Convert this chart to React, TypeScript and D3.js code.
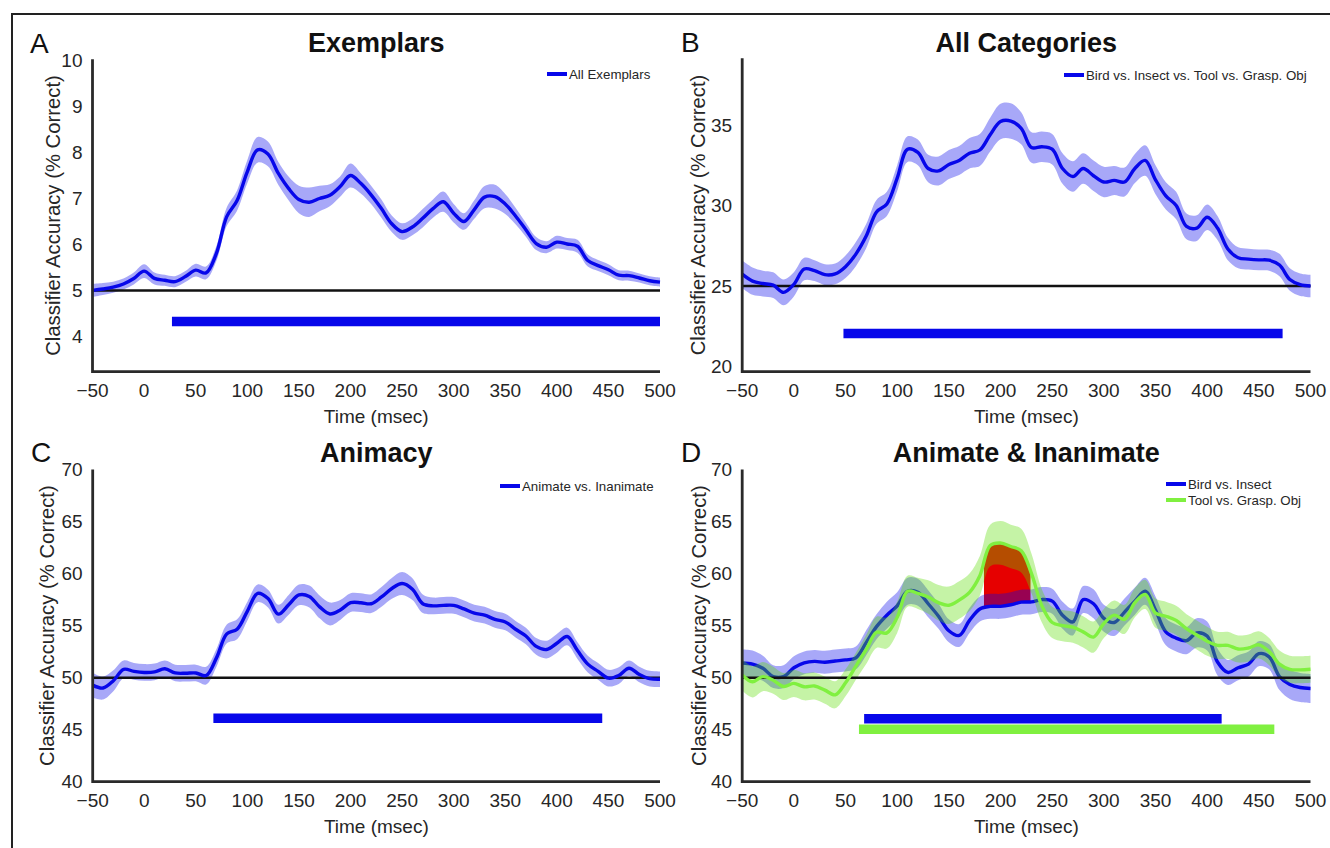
import React from 'react';
import * as d3 from 'd3';

// ---------- DATA ----------
const times = [
  -50, -40, -30, -20, -10, 0, 10, 20, 30, 40,
  50, 60, 70, 80, 90, 100, 110, 120, 130, 140,
  150, 160, 170, 180, 190, 200, 210, 220, 230, 240,
  250, 260, 270, 280, 290, 300, 310, 320, 330, 340,
  350, 360, 370, 380, 390, 400, 410, 420, 430, 440,
  450, 460, 470, 480, 490, 500,
];

const xTicks = [-50, 0, 50, 100, 150, 200, 250, 300, 350, 400, 450, 500];
const yTicksExemplars = [4, 5, 6, 7, 8, 9, 10];
const yTicksCategories = [20, 25, 30, 35];
const yTicksAnimacy = [40, 45, 50, 55, 60, 65, 70];
const yTicksAnimInan = [40, 45, 50, 55, 60, 65, 70];

const exemplarsMean = [
  5.0, 5.03, 5.07, 5.14, 5.26, 5.42, 5.26, 5.22, 5.19, 5.3,
  5.44, 5.38, 5.8, 6.6, 6.95, 7.58, 8.06, 7.97, 7.55, 7.22,
  6.98, 6.92, 7.0, 7.07, 7.26, 7.5, 7.33, 7.08, 6.78, 6.45,
  6.28, 6.38, 6.57, 6.78, 6.93, 6.68, 6.5, 6.76, 7.03, 7.04,
  6.88, 6.62, 6.32, 6.02, 5.94, 6.05, 6.01, 5.96, 5.65, 5.54,
  5.45, 5.33, 5.32, 5.27, 5.21, 5.18,
];
const exemplarsSem = [
  0.14, 0.13, 0.12, 0.12, 0.13, 0.15, 0.13, 0.12, 0.12, 0.12,
  0.14, 0.14, 0.16, 0.2, 0.22, 0.25, 0.28, 0.27, 0.25, 0.26,
  0.3, 0.32, 0.28, 0.24, 0.22, 0.26, 0.22, 0.2, 0.2, 0.18,
  0.18, 0.18, 0.2, 0.2, 0.22, 0.2, 0.18, 0.2, 0.24, 0.26,
  0.22, 0.18, 0.15, 0.14, 0.13, 0.14, 0.13, 0.14, 0.13, 0.12,
  0.12, 0.11, 0.11, 0.1, 0.1, 0.1,
];

const categoriesMean = [
  25.73, 25.3, 25.15, 25.05, 24.6, 25.1, 26.05, 25.95, 25.7, 25.75,
  26.2, 26.98, 28.1, 29.6, 30.1, 31.7, 33.5, 33.3, 32.3, 32.15,
  32.55, 32.8, 33.25, 33.45, 34.4, 35.22, 35.25, 34.8, 33.6, 33.65,
  33.5, 32.3, 31.8, 32.3, 31.85, 31.46, 31.56, 31.46, 32.3, 32.8,
  31.6, 30.6, 30.0, 28.7, 28.6, 29.27, 28.6, 27.3, 26.75, 26.67,
  26.62, 26.6, 26.3, 25.4, 25.08, 25.0,
];
const categoriesSem = [
  0.85, 0.85, 0.8, 0.8, 0.8, 0.75, 0.7, 0.65, 0.65, 0.65,
  0.7, 0.75, 0.75, 0.75, 0.75, 0.8, 0.8, 0.8, 0.85, 0.9,
  0.9, 0.9, 0.95, 1.0, 1.05, 1.1, 1.1, 1.0, 0.95, 0.95,
  0.95, 0.95, 0.95, 0.95, 0.95, 0.95, 0.9, 0.9, 0.9, 0.95,
  0.9, 0.85, 0.85, 0.8, 0.8, 0.8, 0.75, 0.7, 0.65, 0.65,
  0.65, 0.65, 0.7, 0.7, 0.7, 0.7,
];

const animacyMean = [
  49.28, 49.0, 49.7, 50.8, 50.6, 50.5, 50.55, 50.85, 50.45, 50.42,
  50.45, 50.2, 51.9, 54.2, 54.65, 56.4, 58.1, 57.6, 56.1, 57.0,
  57.95, 57.8, 56.8, 56.12, 56.5, 57.2, 57.2, 57.1, 57.75, 58.57,
  59.05, 58.5, 57.1, 56.9, 56.94, 56.94, 56.6, 56.2, 56.0, 55.6,
  55.35, 54.65, 54.0, 53.0, 52.7, 53.3, 53.95, 52.6, 51.3, 50.6,
  49.95, 50.2, 50.9, 50.3, 49.9, 49.84,
];
const animacySem = [
  1.2, 1.1, 1.0, 0.85, 0.8, 0.8, 0.8, 0.8, 0.8, 0.8,
  0.8, 0.85, 0.85, 0.9, 0.95, 0.9, 0.85, 0.85, 0.9, 0.95,
  1.0, 1.05, 1.1, 1.1, 0.95, 0.9, 0.9, 0.9, 0.95, 1.0,
  1.1, 1.05, 0.9, 0.8, 0.8, 0.8, 0.8, 0.8, 0.8, 0.8,
  0.8, 0.8, 0.8, 0.8, 0.85, 0.9, 0.85, 0.8, 0.8, 0.8,
  0.8, 0.8, 0.75, 0.75, 0.75, 0.75,
];

const birdInsectMean = [
  51.4, 51.3, 50.9, 50.1, 50.1, 50.95, 51.42, 51.56, 51.48, 51.6,
  51.7, 51.9, 53.36, 54.9, 56.0, 56.9, 58.3, 58.2, 57.1, 55.9,
  54.5, 54.05, 55.5, 56.6, 56.85, 56.85, 57.0, 57.25, 57.28, 57.5,
  57.35, 56.0, 55.35, 57.5, 57.1, 55.7, 55.3, 56.3, 57.35, 58.3,
  56.5, 54.4, 53.8, 53.55, 54.3, 54.0, 51.5, 50.5, 50.95, 51.3,
  52.3, 52.0, 50.1, 49.35, 49.05, 48.96,
];
const birdInsectSem = [
  1.3, 1.3, 1.2, 1.1, 1.1, 1.1, 1.1, 1.1, 1.1, 1.1,
  1.1, 1.1, 1.2, 1.2, 1.3, 1.3, 1.3, 1.3, 1.3, 1.2,
  1.1, 1.1, 1.2, 1.2, 1.2, 1.2, 1.2, 1.2, 1.2, 1.2,
  1.2, 1.3, 1.3, 1.3, 1.4, 1.3, 1.3, 1.3, 1.3, 1.3,
  1.3, 1.3, 1.3, 1.3, 1.4, 1.4, 1.3, 1.2, 1.2, 1.2,
  1.2, 1.2, 1.3, 1.4, 1.4, 1.4,
];

const toolGraspMean = [
  50.26, 49.6, 50.1, 49.75, 49.15, 49.45, 49.12, 49.2, 48.8, 48.35,
  49.5, 51.1, 52.7, 54.35, 54.3, 55.8, 58.3, 58.1, 57.75, 57.2,
  56.95, 57.45, 58.2, 59.8, 62.7, 62.94, 62.6, 62.2, 60.0, 56.9,
  55.3, 55.0, 54.85, 54.4, 53.9, 55.2, 56.0, 55.6, 57.2, 58.0,
  56.2, 55.9, 55.5, 54.7, 54.1, 53.5, 53.1, 53.1, 52.75, 52.85,
  53.15, 52.5, 51.3, 50.8, 50.75, 50.8,
];
const toolGraspSem = [
  1.5, 1.5, 1.4, 1.3, 1.3, 1.3, 1.3, 1.3, 1.3, 1.3,
  1.3, 1.3, 1.4, 1.5, 1.5, 1.5, 1.5, 1.5, 1.6, 1.7,
  1.8, 1.8, 1.8, 1.9, 2.0, 2.1, 2.1, 2.1, 1.9, 1.6,
  1.5, 1.5, 1.5, 1.5, 1.5, 1.4, 1.4, 1.4, 1.4, 1.4,
  1.4, 1.4, 1.4, 1.4, 1.4, 1.4, 1.3, 1.3, 1.3, 1.3,
  1.3, 1.3, 1.3, 1.3, 1.3, 1.3,
];

// significance bars: [start ms, end ms, y value]
const sigExemplars = [27, 500, 4.32];
const sigCategories = [48, 473, 22.05];
const sigAnimacy = [67, 444, 46.1];
const sigBirdInsect = [68, 414, 46.05];
const sigToolGrasp = [63, 465, 45.05];

// window where the two within-domain curves differ
const diffWindow = [184, 229];

// ---------- STYLE ----------
const FONT = "'Liberation Sans', Arial, Helvetica, sans-serif";
const BLUE = '#0707ea';
const GREEN = '#80f040';
const GREEN_SHADE = '#5adc00';
const RED = '#e60000';
const AXIS = '#2a2a2a';
const TEXT = '#262626';

type Series = {
  name: string;
  mean: number[];
  sem: number[];
  color: string;
  shade: string;
  shadeOpacity: number;
  sig: number[];
};

type PanelProps = {
  id: string;
  letter: string;
  title: string;
  left: number;
  right: number;
  top: number;
  bottom: number;
  yDomain: [number, number];
  yTicks: number[];
  chance: number;
  series: Series[];
  legendX: number;
  legendY: number;
  letterX: number;
  letterY: number;
  titleY: number;
  ylabelX: number;
  highlight?: number[];
};

function Panel(p: PanelProps) {
  const x = d3.scaleLinear().domain([xTicks[0], xTicks[xTicks.length - 1]]).range([p.left, p.right]);
  const y = d3.scaleLinear().domain(p.yDomain).range([p.bottom, p.top]);
  const curve = d3.curveCatmullRom;

  const lineFor = (s: Series) =>
    d3.line<number>().x((_, i) => x(times[i])).y((d) => y(d)).curve(curve)(s.mean) || '';
  const areaFor = (s: Series) =>
    d3
      .area<number>()
      .x((_, i) => x(times[i]))
      .y0((d, i) => y(d - s.sem[i]))
      .y1((d, i) => y(d + s.sem[i]))
      .curve(curve)(s.mean) || '';

  let highlightPath = '';
  if (p.highlight && p.series.length === 2) {
    const b = p.series[1];
    highlightPath =
      d3
        .area<number>()
        .x((_, i) => x(times[i]))
        .y0((d) => y(d))
        .y1((_, i) => y(b.mean[i]))
        .curve(curve)(p.series[0].mean) || '';
  }

  const cx = (p.left + p.right) / 2;
  const cy = (p.top + p.bottom) / 2;

  const layers: React.ReactNode[] = [];
  p.series.forEach((s, k) => {
    layers.push(
      <path key={`sh${k}`} d={areaFor(s)} fill={s.shade} fillOpacity={s.shadeOpacity} stroke="none" />
    );
    if (k === p.series.length - 1) {
      layers.push(
        <line
          key="chance"
          x1={x(xTicks[0])}
          x2={x(xTicks[xTicks.length - 1])}
          y1={y(p.chance)}
          y2={y(p.chance)}
          stroke="#111"
          strokeWidth={2.5}
        />
      );
    }
    layers.push(
      <path key={`ln${k}`} d={lineFor(s)} fill="none" stroke={s.color} strokeWidth={3.4} strokeLinejoin="round" />
    );
  });

  return (
    <g>
      {p.highlight && (
        <>
          <defs>
            <clipPath id={`clip-${p.id}`}>
              <rect
                x={x(p.highlight[0])}
                y={p.top}
                width={x(p.highlight[1]) - x(p.highlight[0])}
                height={p.bottom - p.top}
              />
            </clipPath>
          </defs>
          <path d={highlightPath} fill={RED} clipPath={`url(#clip-${p.id})`} />
        </>
      )}
      {layers}
      {p.series.map((s, k) => (
        <line
          key={`sig${k}`}
          x1={x(s.sig[0])}
          x2={x(s.sig[1])}
          y1={y(s.sig[2])}
          y2={y(s.sig[2])}
          stroke={s.color}
          strokeWidth={9.5}
        />
      ))}
      {/* axes */}
      <path d={`M${p.left},${p.top} V${p.bottom} H${p.right}`} fill="none" stroke={AXIS} strokeWidth={2.8} />
      {xTicks.map((t) => (
        <text key={`xt${t}`} x={x(t)} y={p.bottom + 25} textAnchor="middle" fontSize={19} fill={TEXT} fontFamily={FONT}>
          {t < 0 ? `\u2212${Math.abs(t)}` : `${t}`}
        </text>
      ))}
      {p.yTicks.map((t) => (
        <text
          key={`yt${t}`}
          x={p.left - 10}
          y={y(t)}
          dy="0.35em"
          textAnchor="end"
          fontSize={19}
          fill={TEXT}
          fontFamily={FONT}
        >
          {t}
        </text>
      ))}
      <text x={cx} y={p.bottom + 51} textAnchor="middle" fontSize={19} fill={TEXT} fontFamily={FONT}>
        Time (msec)
      </text>
      <text
        transform={`translate(${p.ylabelX},${cy}) rotate(-90)`}
        textAnchor="middle"
        fontSize={20.3}
        fill={TEXT}
        fontFamily={FONT}
      >
        Classifier Accuracy (% Correct)
      </text>
      <text x={cx} y={p.titleY} textAnchor="middle" fontSize={27} fontWeight="bold" fill="#111" fontFamily={FONT}>
        {p.title}
      </text>
      <text x={p.letterX} y={p.letterY} fontSize={28} fill="#111" fontFamily={FONT}>
        {p.letter}
      </text>
      {/* legend */}
      {p.series.map((s, k) => (
        <g key={`lg${k}`}>
          <line
            x1={p.legendX}
            x2={p.legendX + 20}
            y1={p.legendY + k * 16}
            y2={p.legendY + k * 16}
            stroke={s.color}
            strokeWidth={4}
          />
          <text x={p.legendX + 22} y={p.legendY + k * 16} dy="0.35em" fontSize={13.3} fill={TEXT} fontFamily={FONT}>
            {s.name}
          </text>
        </g>
      ))}
    </g>
  );
}

export default function App() {
  const blue = (name: string, mean: number[], sem: number[], sig: number[]): Series => ({
    name,
    mean,
    sem,
    color: BLUE,
    shade: BLUE,
    shadeOpacity: 0.35,
    sig,
  });
  const green = (name: string, mean: number[], sem: number[], sig: number[]): Series => ({
    name,
    mean,
    sem,
    color: GREEN,
    shade: GREEN_SHADE,
    shadeOpacity: 0.35,
    sig,
  });

  return (
    <svg
      width={1330}
      height={848}
      style={{ position: 'absolute', left: 0, top: 0, background: '#fff' }}
      xmlns="http://www.w3.org/2000/svg"
    >
      <rect x={0} y={0} width={1330} height={848} fill="#fff" />
      <path d="M12,848 V14 H1330" fill="none" stroke="#222" strokeWidth={2} />
      <Panel
        id="A"
        letter="A"
        title="Exemplars"
        left={92.5}
        right={660}
        top={59.3}
        bottom={371.7}
        yDomain={[3.23, 10.03]}
        yTicks={yTicksExemplars}
        chance={5}
        series={[blue('All Exemplars', exemplarsMean, exemplarsSem, sigExemplars)]}
        legendX={547}
        legendY={74}
        letterX={30}
        letterY={53}
        titleY={52}
        ylabelX={59.5}
      />
      <Panel
        id="B"
        letter="B"
        title="All Categories"
        left={742.2}
        right={1310.5}
        top={58.3}
        bottom={371.7}
        yDomain={[19.67, 39.15]}
        yTicks={yTicksCategories}
        chance={25}
        series={[blue('Bird vs. Insect vs. Tool vs. Grasp. Obj', categoriesMean, categoriesSem, sigCategories)]}
        legendX={1064}
        legendY={75}
        letterX={681}
        letterY={52}
        titleY={52}
        ylabelX={705}
      />
      <Panel
        id="C"
        letter="C"
        title="Animacy"
        left={92.7}
        right={660}
        top={469.5}
        bottom={781.7}
        yDomain={[40, 70]}
        yTicks={yTicksAnimacy}
        chance={50}
        series={[blue('Animate vs. Inanimate', animacyMean, animacySem, sigAnimacy)]}
        legendX={500}
        legendY={486}
        letterX={31}
        letterY={462}
        titleY={462}
        ylabelX={54}
      />
      <Panel
        id="D"
        letter="D"
        title="Animate & Inanimate"
        left={742.2}
        right={1310.5}
        top={469.5}
        bottom={781.7}
        yDomain={[40, 70]}
        yTicks={yTicksAnimInan}
        chance={50}
        series={[
          blue('Bird vs. Insect', birdInsectMean, birdInsectSem, sigBirdInsect),
          green('Tool vs. Grasp. Obj', toolGraspMean, toolGraspSem, sigToolGrasp),
        ]}
        legendX={1166}
        legendY={484}
        letterX={681}
        letterY={462}
        titleY={462}
        ylabelX={706}
        highlight={diffWindow}
      />
    </svg>
  );
}
